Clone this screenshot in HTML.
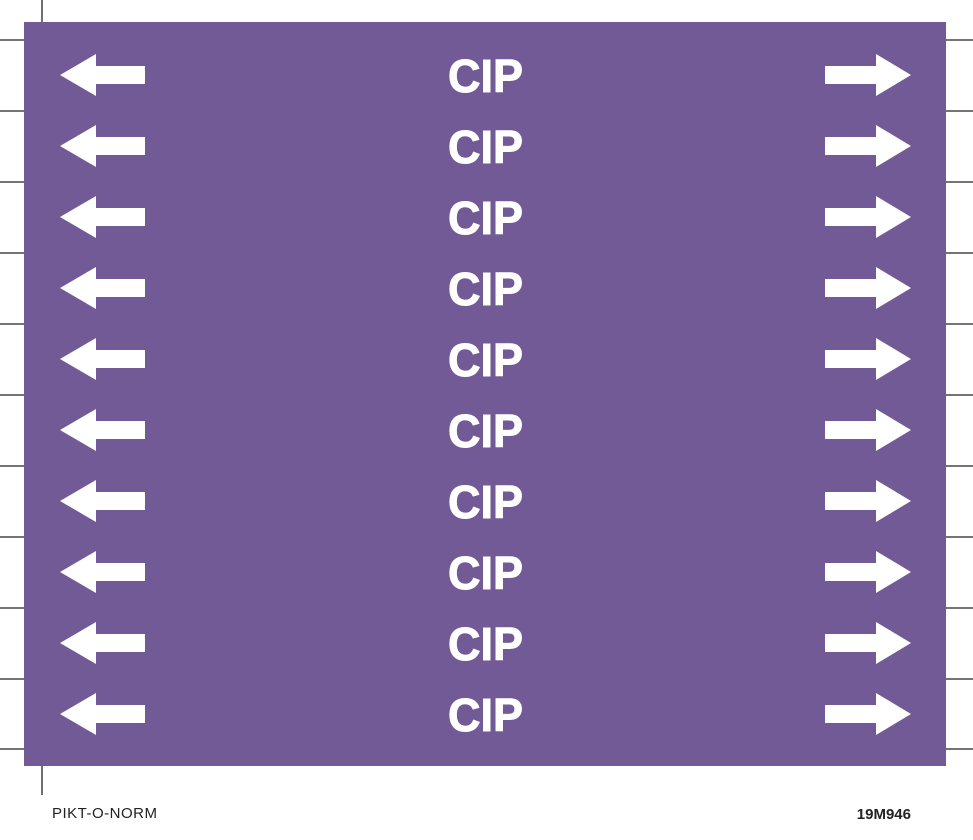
<!DOCTYPE html>
<html><head><meta charset="utf-8"><style>html,body{margin:0;padding:0;background:#fff;}svg{display:block}</style></head>
<body>
<svg width="973" height="840" viewBox="0 0 973 840" xmlns="http://www.w3.org/2000/svg">
<g stroke="#222" stroke-width="1.3">
<line x1="42" y1="0" x2="42" y2="22"/><line x1="42" y1="766" x2="42" y2="795"/>
<line x1="0" y1="40" x2="973" y2="40"/><line x1="0" y1="111" x2="973" y2="111"/><line x1="0" y1="182" x2="973" y2="182"/><line x1="0" y1="253" x2="973" y2="253"/><line x1="0" y1="324" x2="973" y2="324"/><line x1="0" y1="395" x2="973" y2="395"/><line x1="0" y1="466" x2="973" y2="466"/><line x1="0" y1="537" x2="973" y2="537"/><line x1="0" y1="608" x2="973" y2="608"/><line x1="0" y1="679" x2="973" y2="679"/><line x1="0" y1="749" x2="973" y2="749"/>
</g>
<rect x="24" y="22" width="922" height="744" fill="#715a96"/>
<defs>
<g id="row" stroke="none">
<polygon points="60,0 96,-21 96,-9 145,-9 145,9 96,9 96,21" fill="#fff"/>
<polygon points="911,0 876,-21 876,-9 825,-9 825,9 876,9 876,21" fill="#fff"/>
</g>
</defs>
<use href="#row" y="75"/><use href="#row" y="146"/><use href="#row" y="217"/><use href="#row" y="288"/><use href="#row" y="359"/>
<use href="#row" y="430"/><use href="#row" y="501"/><use href="#row" y="572"/><use href="#row" y="643"/><use href="#row" y="714"/>
<g font-family="Liberation Sans, sans-serif" font-weight="bold" font-size="46" fill="#fff" stroke="#fff" stroke-width="1">
<text x="448" y="92" textLength="75" lengthAdjust="spacingAndGlyphs">CIP</text>
<text x="448" y="163" textLength="75" lengthAdjust="spacingAndGlyphs">CIP</text>
<text x="448" y="234" textLength="75" lengthAdjust="spacingAndGlyphs">CIP</text>
<text x="448" y="305" textLength="75" lengthAdjust="spacingAndGlyphs">CIP</text>
<text x="448" y="376" textLength="75" lengthAdjust="spacingAndGlyphs">CIP</text>
<text x="448" y="447" textLength="75" lengthAdjust="spacingAndGlyphs">CIP</text>
<text x="448" y="518" textLength="75" lengthAdjust="spacingAndGlyphs">CIP</text>
<text x="448" y="589" textLength="75" lengthAdjust="spacingAndGlyphs">CIP</text>
<text x="448" y="660" textLength="75" lengthAdjust="spacingAndGlyphs">CIP</text>
<text x="448" y="731" textLength="75" lengthAdjust="spacingAndGlyphs">CIP</text>
</g>
<g font-family="Liberation Sans, sans-serif" font-size="15" fill="#222">
<text x="52" y="818" letter-spacing="0.5">PIKT-O-NORM</text>
<text x="911" y="819" text-anchor="end" font-weight="bold">19M946</text>
</g>
</svg>
</body></html>
